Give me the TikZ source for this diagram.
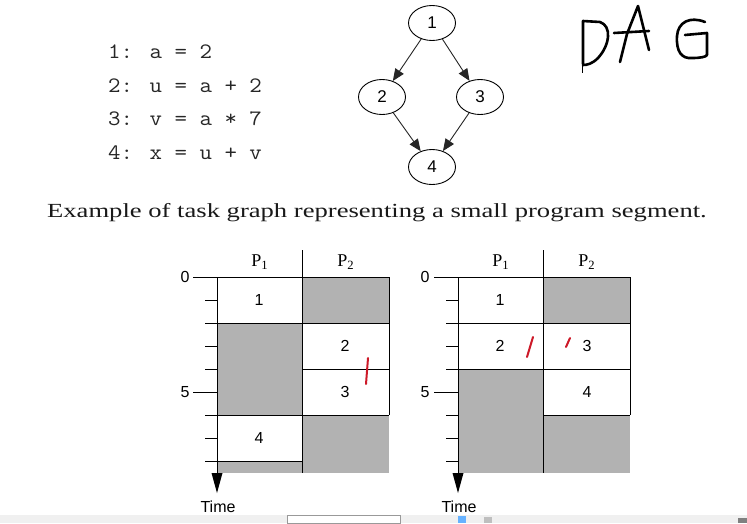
\documentclass[tikz,border=0pt]{standalone}
\usepackage{fontspec}
\setmainfont{Liberation Serif}
\newfontfamily\sansf{Liberation Sans}
\newfontfamily\codef{Latin Modern Mono}
\usetikzlibrary{shapes.geometric,arrows.meta}
\definecolor{cellgray}{RGB}{178,178,178}
\definecolor{penred}{RGB}{205,25,40}
\definecolor{stripgray}{RGB}{240,240,240}
\begin{document}
\begin{tikzpicture}[x=1pt,y=-1pt,
  code/.style={anchor=west,inner sep=0pt,xscale=1.1,text=black!85,font=\codef\fontsize{22}{22}\selectfont},
  tnode/.style={draw=black,line width=0.9pt,ellipse,minimum width=47pt,minimum height=35pt,inner sep=0pt,font=\sansf\fontsize{17}{17}\selectfont},
  edge/.style={draw=black!85,line width=0.9pt,-{Triangle[length=12pt,width=10pt]}},
  cell/.style={font=\sansf\fontsize{16}{16}\selectfont,inner sep=0pt},
  plabel/.style={font=\fontsize{18}{18}\selectfont,inner sep=0pt},
  axlabel/.style={font=\sansf\fontsize{16}{16}\selectfont,inner sep=0pt},
  gline/.style={line width=0.9pt,black},
  pen/.style={draw=penred,line width=2pt,line cap=round},
  hand/.style={draw=black,line width=2.6pt,line cap=round,line join=round}]
\useasboundingbox (0,0) rectangle (747,523);
\fill[white] (0,0) rectangle (747,523);

% code
\node[code] (c1) at (108,52) {1: a = 2};
\node[code] (c2) at (108,86) {2: u = a + 2};
\node[code] (c3) at (108,119) {3: v = a * 7};
\node[code] (c4) at (108,153) {4: x = u + v};

% task graph
\node[tnode] (n1) at (432,23) {1};
\node[tnode] (n2) at (382,97) {2};
\node[tnode] (n3) at (480,97) {3};
\node[tnode] (n4) at (432,167) {4};
\draw[edge] (n1) -- (n2);
\draw[edge] (n1) -- (n3);
\draw[edge] (n2) -- (n4);
\draw[edge] (n3) -- (n4);

% handwritten DAG
\draw[black,line width=0.8pt] (582,22) -- (582,73);
\draw[hand] (583,64) -- (583,21) -- (600,22) .. controls (612,26) and (610,45) .. (598,58) .. controls (592,64) and (587,65) .. (583,65);
\draw[hand] (620,62) -- (627,34) -- (638,6) -- (649,50);
\draw[hand] (614,33) -- (649,31);
\draw[hand] (705,22) .. controls (690,16) and (678,22) .. (677,36) .. controls (676,52) and (682,59) .. (692,58) .. controls (700,58) and (706,57) .. (707,55);
\draw[hand] (707,55) -- (707,33) -- (685,35);

% caption
\node[font=\fontsize{20}{20}\selectfont,inner sep=0pt,xscale=1.33,text=black!90] (cap) at (377,213) {Example of task graph representing a small program segment.};

% left schedule
\begin{scope}[shift={(217,277)}]
  \fill[cellgray] (0,46) rectangle (85.5,138);
  \fill[cellgray] (0,184) rectangle (85.5,196);
  \fill[cellgray] (85.5,0) rectangle (172,46);
  \fill[cellgray] (85.5,138) rectangle (172,196);
  \draw[gline] (-24,0) -- (172,0);
  \draw[gline] (172,0) -- (172,46);
  \draw[gline] (-12,46) -- (172,46) -- (172,138);
  \draw[gline] (85.5,92) -- (172,92);
  \draw[gline] (-12,138) -- (172,138);
  \draw[gline] (-12,184) -- (85.5,184);
  \foreach \t in {1,3,4,7} \draw[gline] (-12,23*\t) -- (0,23*\t);
  \draw[gline] (-24,115) -- (0,115);
  \draw[gline] (85.5,-27) -- (85.5,196);
  \draw[gline] (0,0) -- (0,200);
  \fill[black] (0,216) -- (-5.5,196) -- (5.5,196) -- cycle;
  \node[axlabel] (l0) at (-32,0) {0};
  \node[axlabel] (l5) at (-32,115) {5};
  \node[axlabel] (lt) at (1,230) {Time};
  \node[plabel] (lp1) at (42.75,-15) {P\textsubscript{1}};
  \node[plabel] (lp2) at (128.75,-15) {P\textsubscript{2}};
  \node[cell] (la1) at (42,23) {1};
  \node[cell] (la4) at (42,161) {4};
  \node[cell] (la2) at (128,69) {2};
  \node[cell] (la3) at (128,115) {3};
\end{scope}

% right schedule
\begin{scope}[shift={(458,277)}]
  \fill[cellgray] (85.5,0) rectangle (172,46);
  \fill[cellgray] (0,92) rectangle (85.5,196);
  \fill[cellgray] (85.5,138) rectangle (172,196);
  \draw[gline] (-24,0) -- (172,0);
  \draw[gline] (172,0) -- (172,138);
  \draw[gline] (-12,46) -- (172,46);
  \draw[gline] (-12,92) -- (172,92);
  \draw[gline] (85.5,138) -- (172,138);
  \foreach \t in {1,3,6,7,8} \draw[gline] (-12,23*\t) -- (0,23*\t);
  \draw[gline] (-24,115) -- (0,115);
  \draw[gline] (85.5,-27) -- (85.5,196);
  \draw[gline] (0,0) -- (0,200);
  \fill[black] (0,216) -- (-5.5,196) -- (5.5,196) -- cycle;
  \node[axlabel] (r0) at (-33,0) {0};
  \node[axlabel] (r5) at (-33,115) {5};
  \node[axlabel] (rt) at (1,230) {Time};
  \node[plabel] (rp1) at (42.75,-15) {P\textsubscript{1}};
  \node[plabel] (rp2) at (128.75,-15) {P\textsubscript{2}};
  \node[cell] (ra1) at (42,23) {1};
  \node[cell] (ra2) at (42,69) {2};
  \node[cell] (ra3) at (129,69) {3};
  \node[cell] (ra4) at (129,115) {4};
\end{scope}

% red pen marks
\draw[pen] (368,358) -- (366,384);
\draw[pen] (533,337) -- (527,357);
\draw[pen] (570,338) -- (566,347);

% bottom strip
\fill[stripgray] (0,515) rectangle (747,523);
\draw[black!40,fill=white,line width=0.6pt] (287,515.5) rectangle (400,523);
\fill[blue!50!cyan!60] (458,516) rectangle (466,523);
\fill[black!25] (484,517) rectangle (492,523);
\fill[black!50] (738,518) rectangle (747,523);
\end{tikzpicture}
\end{document}
